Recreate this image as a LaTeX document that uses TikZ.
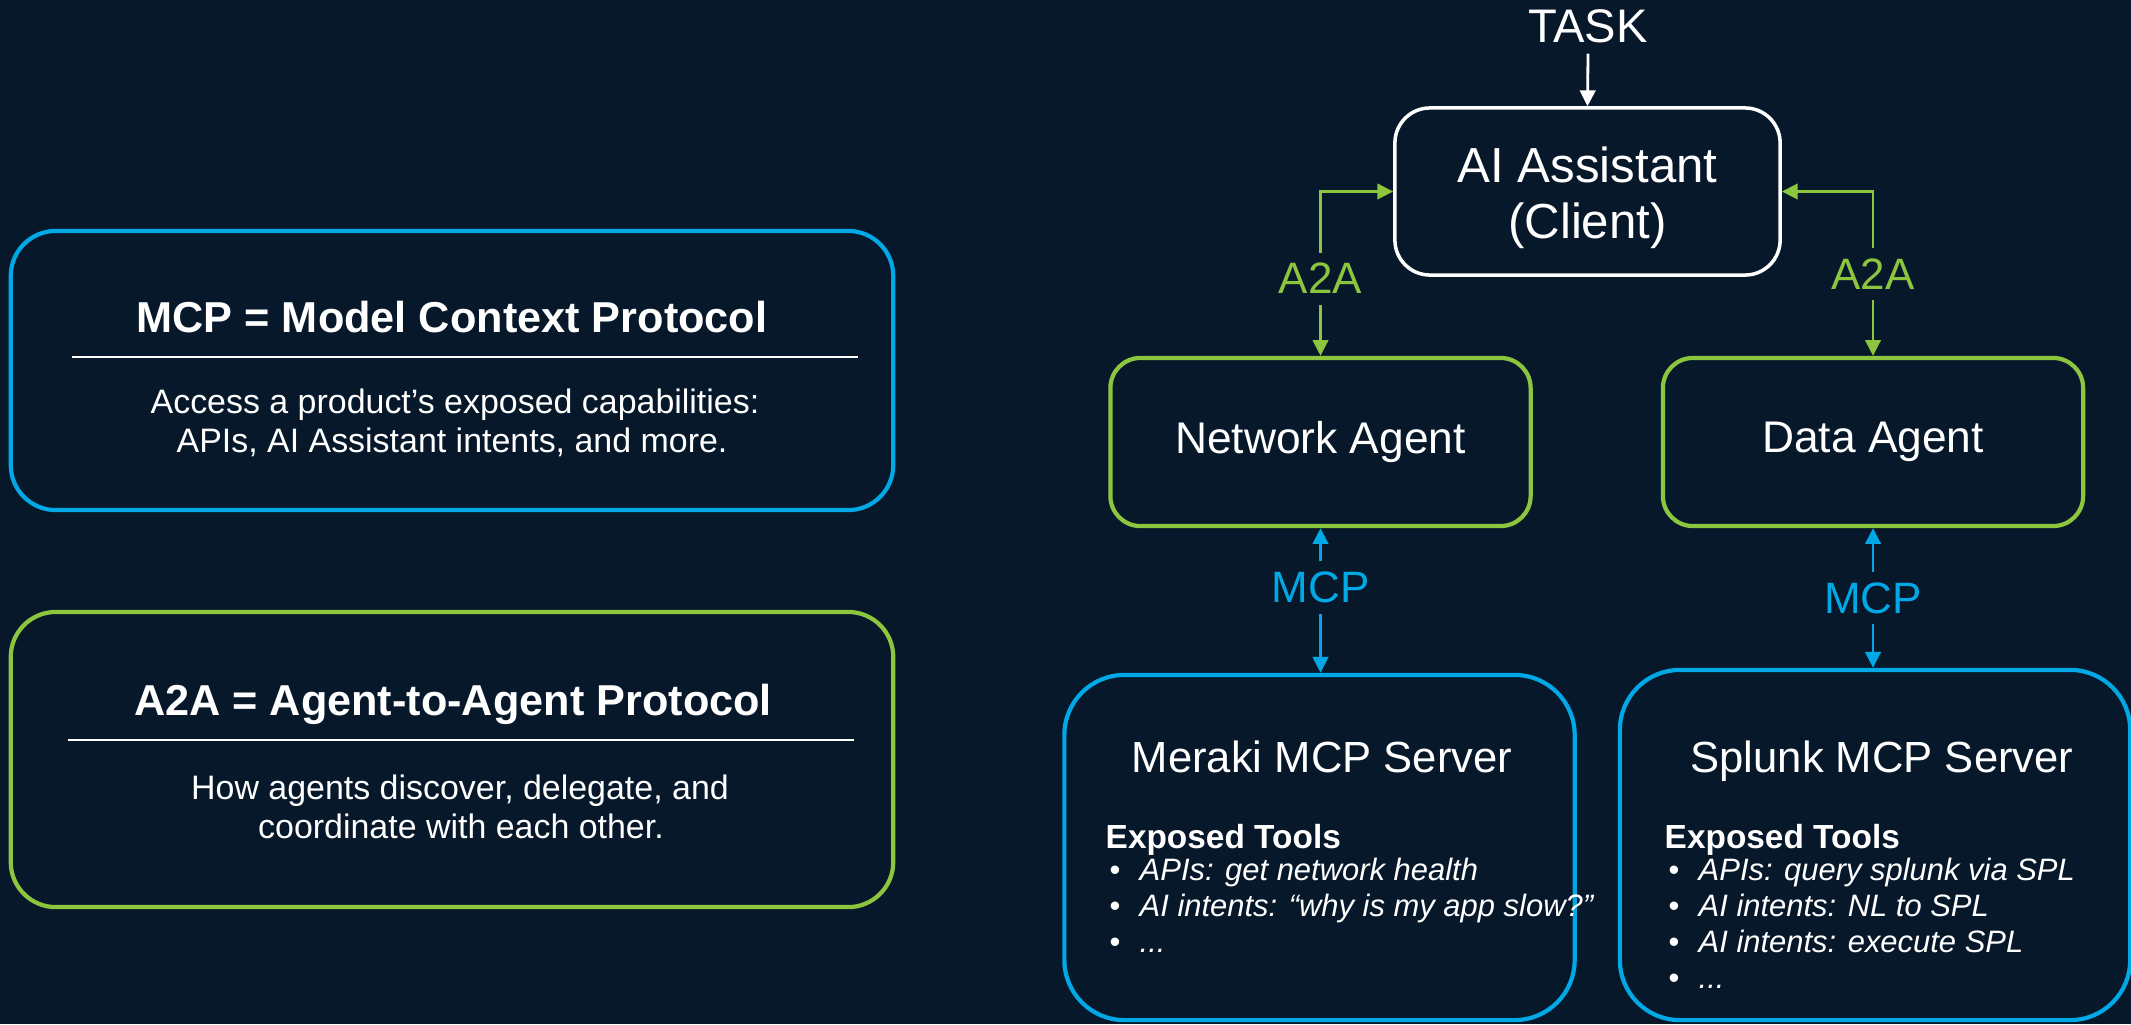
\documentclass[tikz,border=0pt]{standalone}
\usepackage{fontspec}
\setmainfont{Liberation Sans}
\usetikzlibrary{arrows.meta, positioning}
\definecolor{bgnavy}{HTML}{07182B}
\definecolor{mcpblue}{HTML}{00A9E6}
\definecolor{a2agreen}{HTML}{8CC63F}

\begin{document}
\begin{tikzpicture}[x=0.01cm, y=-0.01cm,
    every node/.style={inner sep=0pt, text=white},
    card/.style={draw, line width=1.2pt, rounded corners=0.45cm, minimum width=8.82cm},
    cardtitle/.style={anchor=base, font=\fontsize{12.3pt}{14pt}\selectfont\bfseries},
    cardtext/.style={anchor=base, font=\fontsize{9.65pt}{11pt}\selectfont},
    cardrule/.style={white, line width=0.6pt},
    clientbox/.style={draw=white, line width=1pt, rounded corners=0.35cm, minimum width=3.85cm, minimum height=1.67cm},
    clienttext/.style={anchor=base, font=\fontsize{14pt}{16pt}\selectfont},
    agentbox/.style={draw=a2agreen, line width=1.2pt, rounded corners=0.3cm, minimum width=4.2cm, minimum height=1.68cm, font=\fontsize{12.6pt}{15pt}\selectfont},
    serverbox/.style={draw=mcpblue, line width=1.2pt, rounded corners=0.6cm, minimum width=5.1cm, minimum height=3.45cm},
    servertitle/.style={anchor=base, font=\fontsize{12.4pt}{15pt}\selectfont},
    toolhead/.style={anchor=base west, font=\fontsize{9.5pt}{11pt}\selectfont\bfseries},
    toolitem/.style={anchor=base west, font=\fontsize{8.8pt}{10pt}\selectfont\itshape},
    bulletmark/.style={anchor=base west, font=\fontsize{8.8pt}{10pt}\selectfont},
    tag/.style={fill=bgnavy, inner sep=3pt, font=\fontsize{12.5pt}{15pt}\selectfont},
    a2aline/.style={a2agreen, line width=0.8pt, {Triangle[length=4.5pt, width=4.4pt]}-{Triangle[length=4.5pt, width=4.4pt]}},
    mcpline/.style={mcpblue, line width=0.8pt, {Triangle[length=4.5pt, width=4.4pt]}-{Triangle[length=4.5pt, width=4.4pt]}}]

    \useasboundingbox (0,0) rectangle (2131,1024);
    \fill[bgnavy] (0,0) rectangle (2131,1024);

    % MCP card
    \node[card, draw=mcpblue, minimum height=2.79cm] (mcpcard) at (452,370.5) {};
    \node[cardtitle] (mcptitle) at (452,332) {MCP = Model Context Protocol};
    \draw[cardrule] (72,357) -- (858,357);
    \node[cardtext] (mcpline1) at (455,413) {Access a product’s exposed capabilities:};
    \node[cardtext] (mcpline2) at (452,452) {APIs, AI Assistant intents, and more.};

    % A2A card
    \node[card, draw=a2agreen, minimum height=2.95cm] (a2acard) at (452,759.5) {};
    \node[cardtitle] (a2atitle) at (453,715) {A2A = Agent-to-Agent Protocol};
    \draw[cardrule] (68,740) -- (854,740);
    \node[cardtext] (a2aline1) at (460,799) {How agents discover, delegate, and};
    \node[cardtext] (a2aline2) at (461,838) {coordinate with each other.};

    % Task and client
    \node[anchor=base, inner sep=3pt, font=\fontsize{13.4pt}{16pt}\selectfont] (task) at (1588,42) {TASK};
    \node[clientbox] (client) at (1587.5,191.5) {};
    \node[clienttext] (clientname) at (1587.5,182) {AI Assistant};
    \node[clienttext] (clientrole) at (1587.5,238) {(Client)};
    \draw[white, line width=0.8pt, -{Triangle[length=4.5pt, width=4.4pt]}] (task.south) -- (client.north);

    % Agents
    \node[agentbox] (netagent) at (1320.5,442) {Network Agent};
    \node[agentbox] (dataagent) at (1873,442) {Data Agent};

    \draw[a2aline] (client.west) -| node[tag, pos=0.765, text=a2agreen] (a2aleft) {A2A} (netagent.north);
    \draw[a2aline] (client.east) -| node[tag, pos=0.75, text=a2agreen] (a2aright) {A2A} (dataagent.north);

    % MCP servers
    \node[serverbox] (meraki) at (1319.5,847.5) {};
    \node[serverbox, minimum height=3.5cm] (splunk) at (1875,845) {};

    \draw[mcpline] (netagent.south) -- node[tag, pos=0.41, text=mcpblue] (mcpleft) {MCP} (netagent.south |- meraki.north);
    \draw[mcpline] (dataagent.south) -- node[tag, pos=0.5, text=mcpblue] (mcpright) {MCP} (dataagent.south |- splunk.north);

    % Meraki contents
    \node[servertitle] (merakititle) at (1322,772) {Meraki MCP Server};
    \node[toolhead] (merakitools) at (1105,848) {Exposed Tools};
    \node[bulletmark] (mb1) at (1109,880) {•};
    \node[bulletmark] (mb2) at (1109,916) {•};
    \node[bulletmark] (mb3) at (1109,952) {•};
    \node[toolitem] (mi1) at (1139,880) {APIs: get network health};
    \node[toolitem] (mi2) at (1139,916) {AI intents: “why is my app slow?”};
    \node[toolitem] (mi3) at (1139,952) {...};

    % Splunk contents
    \node[servertitle] (splunktitle) at (1882,772) {Splunk MCP Server};
    \node[toolhead] (splunktools) at (1664,848) {Exposed Tools};
    \node[bulletmark] (sb1) at (1668,880) {•};
    \node[bulletmark] (sb2) at (1668,916) {•};
    \node[bulletmark] (sb3) at (1668,952) {•};
    \node[bulletmark] (sb4) at (1668,988) {•};
    \node[toolitem] (si1) at (1698,880) {APIs: query splunk via SPL};
    \node[toolitem] (si2) at (1698,916) {AI intents: NL to SPL};
    \node[toolitem] (si3) at (1698,952) {AI intents: execute SPL};
    \node[toolitem] (si4) at (1698,988) {...};

\end{tikzpicture}
\end{document}
